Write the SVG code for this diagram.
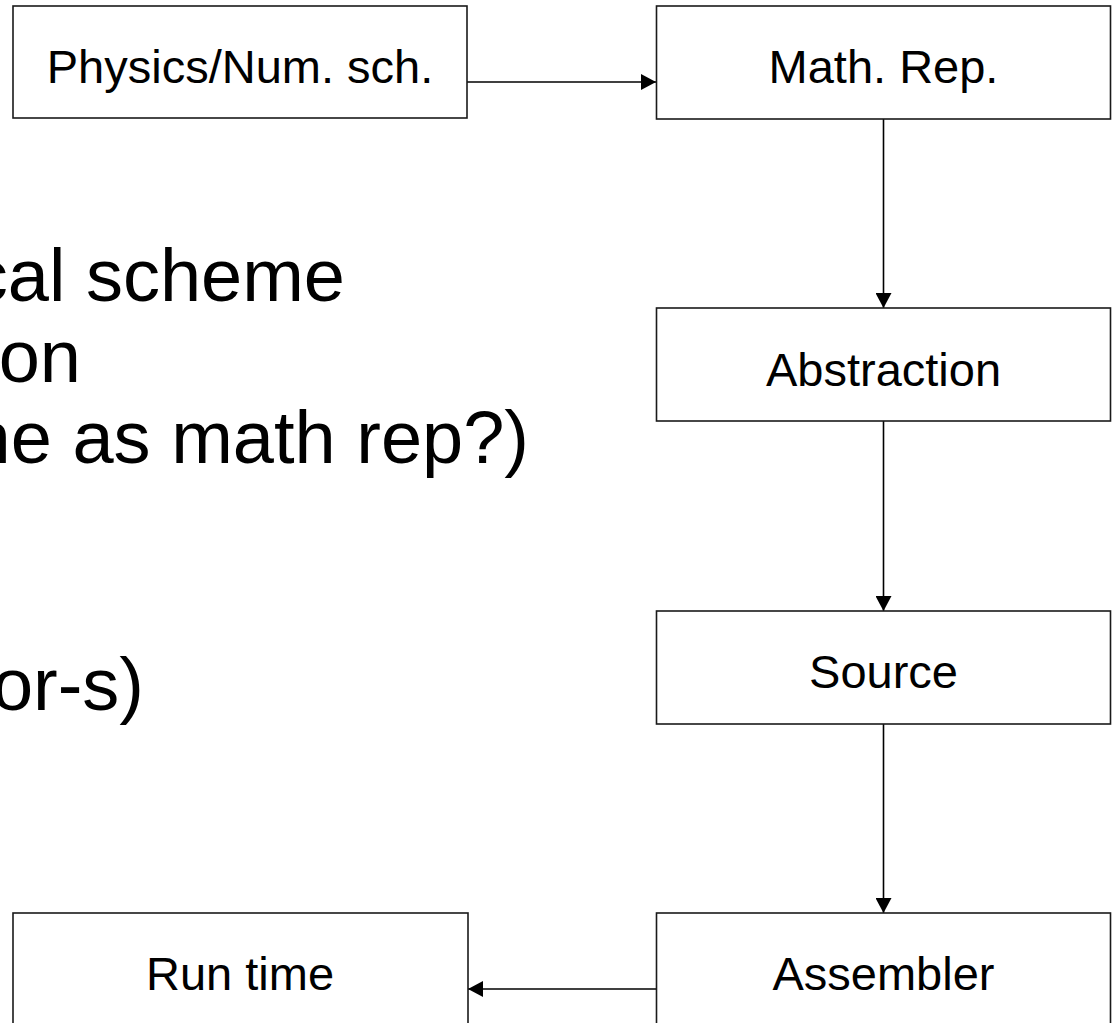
<svg xmlns="http://www.w3.org/2000/svg" width="1112" height="1023" viewBox="0 0 1112 1023">
  <style>
    .box { fill: #ffffff; stroke: #1a1a1a; stroke-width: 1.6; }
    .label { font-family: "Liberation Sans", Arial, sans-serif; font-size: 47px; fill: #000000; text-anchor: middle; }
    .note { font-family: "Liberation Sans", Arial, sans-serif; font-size: 74px; fill: #000000; text-anchor: end; }
    .link { fill: none; stroke: #000000; stroke-width: 1.6; marker-end: url(#head); }
  </style>
  <defs>
    <marker id="head" markerUnits="userSpaceOnUse" markerWidth="16" markerHeight="16" viewBox="0 0 16 16" refX="15" refY="8" orient="auto">
      <path d="M0,0 L15,8 L0,16 Z" fill="#000000"/>
    </marker>
  </defs>

  <rect width="1112" height="1023" fill="#ffffff"/>

  <!-- notes running off the left edge -->
  <g id="notes">
    <text class="note" x="345" y="301">cal scheme</text>
    <text class="note" x="81" y="382">on</text>
    <text class="note" x="529" y="463">ne as math rep?)</text>
    <text class="note" x="144" y="710">or-s)</text>
  </g>

  <!-- connectors -->
  <g id="connectors">
    <line class="link" x1="467" y1="82" x2="656" y2="82"/>
    <line class="link" x1="883.5" y1="119" x2="883.5" y2="308"/>
    <line class="link" x1="883.5" y1="421" x2="883.5" y2="611"/>
    <line class="link" x1="883.5" y1="724" x2="883.5" y2="913"/>
    <line class="link" x1="656" y1="989" x2="468" y2="989"/>
  </g>

  <g id="physics">
    <rect class="box" x="13" y="6" width="454" height="112"/>
    <text class="label" x="240" y="83">Physics/Num. sch.</text>
  </g>

  <g id="math-rep">
    <rect class="box" x="656.5" y="6" width="454" height="113"/>
    <text class="label" x="883.5" y="83">Math. Rep.</text>
  </g>

  <g id="abstraction">
    <rect class="box" x="656.5" y="308" width="454" height="113"/>
    <text class="label" x="883.5" y="386">Abstraction</text>
  </g>

  <g id="source">
    <rect class="box" x="656.5" y="611" width="454" height="113"/>
    <text class="label" x="883.5" y="688">Source</text>
  </g>

  <g id="assembler">
    <rect class="box" x="656.5" y="913" width="454" height="113"/>
    <text class="label" x="883.5" y="990">Assembler</text>
  </g>

  <g id="run-time">
    <rect class="box" x="13" y="913" width="455" height="113"/>
    <text class="label" x="240" y="990">Run time</text>
  </g>
</svg>
